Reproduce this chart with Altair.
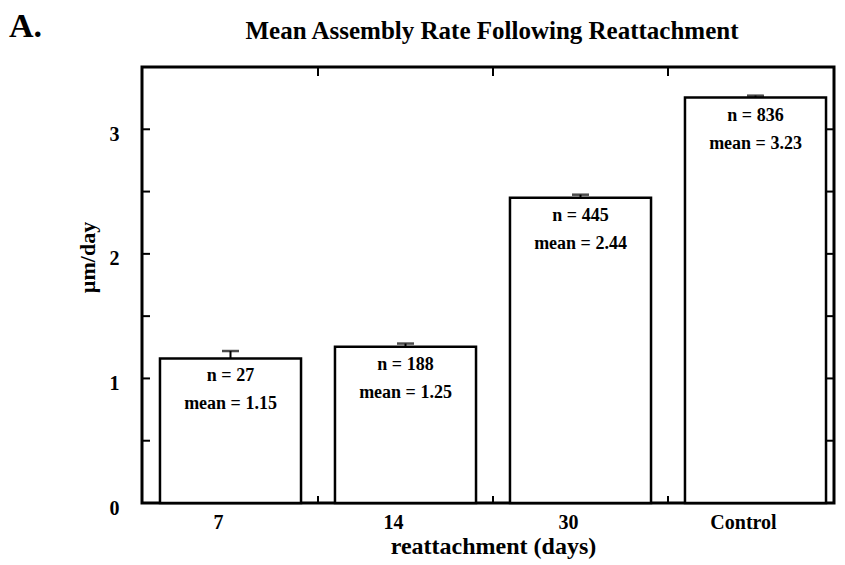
import altair as alt
import pandas as pd

# ---- data ----
categories = ["7", "14", "30", "Control"]
bar_heights = [1.16, 1.255, 2.45, 3.255]
err_tops = [1.22, 1.28, 2.475, 3.27]
n_values = [27, 188, 445, 836]
mean_labels = ["1.15", "1.25", "2.44", "3.23"]
y_label_values = [0, 1, 2, 3]
y_tick_values = [0.5, 1, 1.5, 2, 2.5, 3]
x_tick_after = ["7", "14", "30"]
title_text = "Mean Assembly Rate Following Reattachment"
panel_text = "A."

FONT = "Liberation Serif"
W, H = 692, 436

df = pd.DataFrame({
    "cat": categories,
    "value": bar_heights,
    "err": err_tops,
    "n_text": ["n = %d" % n for n in n_values],
    "mean_text": ["mean = " + m for m in mean_labels],
})
yticks_df = pd.DataFrame({"value": y_tick_values})
xticks_df = pd.DataFrame({"cat": x_tick_after})

x_scale = alt.Scale(domain=categories, range=[1, 701], paddingInner=0, paddingOuter=0)
y_scale = alt.Scale(domain=[0, 3.5], nice=False, zero=True)

x_axis = alt.Axis(title="reattachment (days)", labelAngle=0, ticks=False,
                  tickSize=0, domain=False, grid=False, labelFontSize=20,
                  titleFontSize=24, labelPadding=9, titlePadding=2, labelOffset=-12)
y_axis = alt.Axis(values=y_label_values, title="µm/day", ticks=False,
                  tickSize=0, domain=False, grid=False, labelFontSize=20,
                  titleFontSize=22, labelPadding=23, labelOffset=5,
                  titleX=-55, titleY=190, titleAngle=-90, titleAlign="center",
                  titleBaseline="middle")


def X(**kw):
    return alt.X("cat:N", scale=x_scale, sort=categories, axis=x_axis, **kw)


def Y(field="value"):
    return alt.Y(field + ":Q", scale=y_scale, axis=y_axis)


base = alt.Chart(df)

bars = base.mark_bar(fill="white", stroke="black", strokeWidth=2.5,
                     width={"band": 0.806}).encode(x=X(), y=Y())

err_rule = base.mark_rule(color="black", strokeWidth=2).encode(
    x=X(), y=Y(), y2="err:Q")
err_cap = base.mark_tick(color="black", orient="horizontal", size=17,
                         thickness=2.5).encode(x=X(), y=Y("err"))

n_text = base.mark_text(font=FONT, fontSize=18, fontWeight="bold", color="black",
                        baseline="middle", dy=18).encode(x=X(), y=Y(), text="n_text:N")
mean_text = base.mark_text(font=FONT, fontSize=18, fontWeight="bold", color="black",
                           baseline="middle", dy=46).encode(x=X(), y=Y(), text="mean_text:N")

left_ticks = alt.Chart(yticks_df).mark_rule(color="black", strokeWidth=2).encode(
    y=Y(), x=alt.value(0), x2=alt.value(8))
right_ticks = alt.Chart(yticks_df).mark_rule(color="black", strokeWidth=2).encode(
    y=Y(), x=alt.value(W - 8), x2=alt.value(W))
top_ticks = alt.Chart(xticks_df).mark_rule(color="black", strokeWidth=2).encode(
    x=X(bandPosition=1), y=alt.value(0), y2=alt.value(9))
bottom_ticks = alt.Chart(xticks_df).mark_rule(color="black", strokeWidth=2).encode(
    x=X(bandPosition=1), y=alt.value(H - 7), y2=alt.value(H))

label_data = alt.Data(values=[{"t": panel_text, "title": title_text}])
panel_label = alt.Chart(label_data).mark_text(
    font=FONT, fontSize=34, fontWeight="bold", color="black",
    align="left", baseline="alphabetic").encode(
    text="t:N", x=alt.value(-133), y=alt.value(-30))
main_title = alt.Chart(label_data).mark_text(
    font=FONT, fontSize=25, fontWeight="bold", color="black",
    align="center", baseline="alphabetic").encode(
    text="title:N", x=alt.value(W / 2 + 4), y=alt.value(-28))

chart = alt.layer(
    bars, err_rule, err_cap, n_text, mean_text,
    left_ticks, right_ticks, top_ticks, bottom_ticks, panel_label, main_title,
).properties(
    width=W, height=H,
    background="white",
    autosize=alt.AutoSizeParams(type="none"),
    padding={"left": 142, "top": 67, "right": 11, "bottom": 62},
).configure_view(
    stroke="black", strokeWidth=3
).configure_axis(
    labelFont=FONT, titleFont=FONT, labelFontWeight="bold", titleFontWeight="bold",
    labelColor="black", titleColor="black",
)

chart.save("out.html", embed_options={"renderer": "svg", "actions": False})
